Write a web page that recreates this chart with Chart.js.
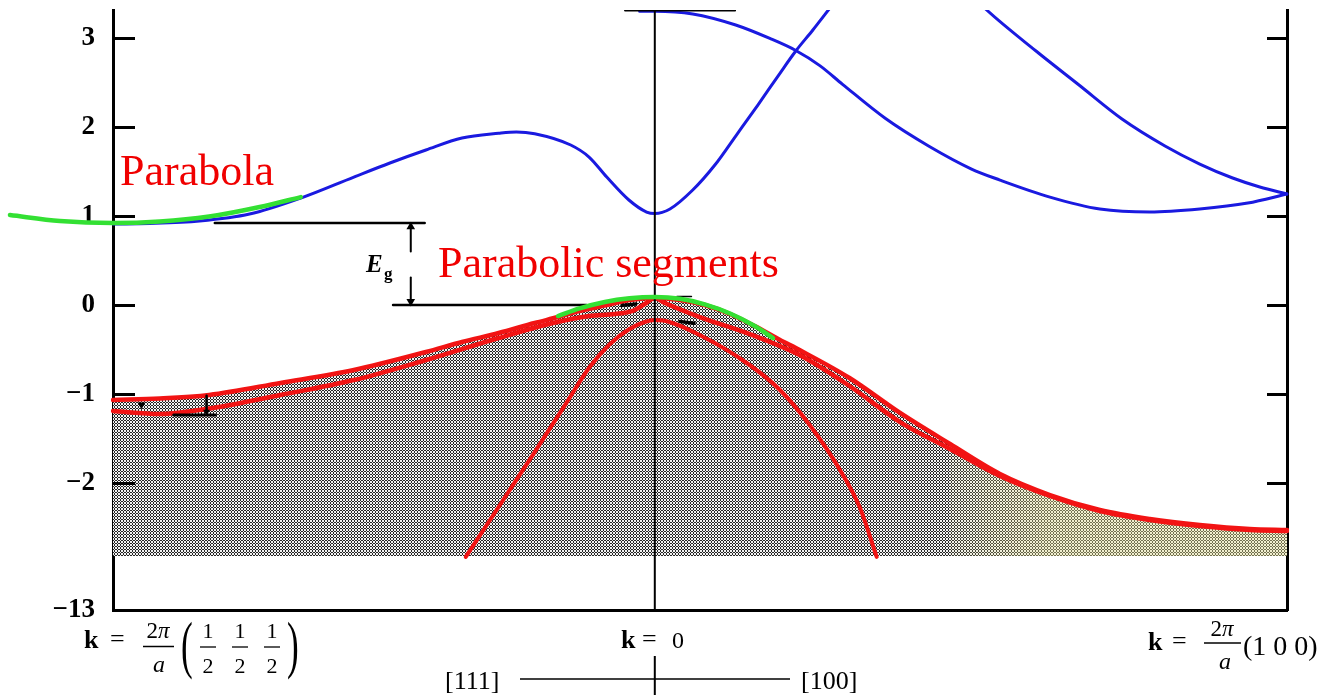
<!DOCTYPE html>
<html><head><meta charset="utf-8">
<script src="https://cdn.jsdelivr.net/npm/chart.js@4.4.1/dist/chart.umd.min.js"></script>
<style>html,body{margin:0;padding:0;background:#fff;}#wrap{position:relative;width:1324px;height:695px;}</style>
</head><body><div id="wrap"><canvas id="c"></canvas></div>
<script>
// ---- axis ranges / ticks (k in units of 2π/a, E in eV; the bottom is a broken axis at -13 eV) ----
const xMin = -0.857, xMax = 1.0;
const yMin = -3.427, yMax = 3.315;
const yTickValues = [3, 2, 1, 0, -1, -2, -3.427];
const yTickLabels = ['3', '2', '1', '0', '\u22121', '\u22122', '\u221213'];
const shadeBottom = -2.82;

// ---- conduction bands (blue) ----
const cb1X = [-0.857,-0.799,-0.720,-0.641,-0.560,-0.476,-0.419,-0.362,-0.305,-0.247,-0.219,-0.190,-0.133,-0.104,-0.076,-0.041,-0.013,0,0.024,0.060,0.095,0.128,0.163,0.196,0.223,0.250,0.277];
const cb1Y = [0.910,0.916,0.944,1.022,1.202,1.438,1.596,1.742,1.876,1.930,1.945,1.925,1.798,1.663,1.438,1.180,1.045,1.028,1.079,1.292,1.573,1.899,2.247,2.584,2.854,3.090,3.337];
const cb2X = [-0.024,0,0.060,0.128,0.182,0.223,0.261,0.297,0.365,0.433,0.501,0.546,0.625,0.704,0.783,0.862,0.938,1.0];
const cb2Y = [3.30,3.30,3.27,3.146,2.995,2.860,2.690,2.480,2.095,1.787,1.528,1.404,1.213,1.079,1.045,1.079,1.146,1.247];
const cb3X = [0.506,0.525,0.603,0.671,0.739,0.807,0.862,0.914,0.957,1.0];
const cb3Y = [3.45,3.315,2.854,2.472,2.090,1.787,1.584,1.427,1.326,1.247];

// ---- valence bands (red) ----
const hhX = [-0.857,-0.783,-0.705,-0.592,-0.476,-0.362,-0.305,-0.247,-0.190,-0.153,-0.119,-0.076,-0.040,0,0.040,0.079,0.119,0.158,0.198,0.229,0.308,0.388,0.467,0.546,0.625,0.704,0.783,0.862,0.941,1.0];
const hhY = [-1.067,-1.051,-1.011,-0.876,-0.730,-0.528,-0.416,-0.315,-0.202,-0.135,-0.067,0.0,0.056,0.079,0.056,0.0,-0.101,-0.236,-0.393,-0.506,-0.820,-1.213,-1.562,-1.899,-2.135,-2.303,-2.404,-2.472,-2.517,-2.528];
const lhX = [-0.857,-0.783,-0.699,-0.592,-0.476,-0.362,-0.247,-0.161,-0.104,-0.063,-0.035,-0.016,0,0.016,0.071,0.150,0.229,0.308,0.388,0.467,0.546,0.625,0.704,0.783,0.862,0.941,1.0];
const lhY = [-1.191,-1.225,-1.157,-1.011,-0.843,-0.618,-0.371,-0.202,-0.124,-0.101,-0.067,0.011,0.079,0.022,-0.135,-0.326,-0.562,-0.910,-1.315,-1.618,-1.921,-2.146,-2.315,-2.416,-2.483,-2.528,-2.539];
const soX = [-0.299,-0.245,-0.190,-0.142,-0.103,-0.071,-0.040,-0.016,0,0.013,0.071,0.150,0.198,0.245,0.293,0.324,0.351];
const soY = [-2.831,-2.247,-1.652,-1.124,-0.697,-0.438,-0.270,-0.191,-0.169,-0.174,-0.337,-0.674,-0.955,-1.348,-1.854,-2.270,-2.831];

// ---- parabolic fits (green) ----
const parLX = [-1.020,-0.941,-0.857,-0.783,-0.705,-0.625,-0.560];
const parLY = [1.011,0.944,0.921,0.938,0.994,1.101,1.213];
const parGX = [-0.153,-0.119,-0.079,-0.040,0,0.040,0.079,0.119,0.158,0.187];
const parGY = [-0.124,-0.038,0.034,0.075,0.090,0.070,0.007,-0.096,-0.236,-0.371];

// ---- annotation marks (black) ----
const gammaX = [0, 0], gammaY = [yMax, yMin];
const topMarkX = [-0.047, 0.127], topMarkY = [3.31, 3.31];
const egTopX = [-0.696, -0.364], egTopY = [0.921, 0.921];
const egBotX = [-0.414, -0.108], egBotY = [0, 0];
const egUpX = [-0.386, -0.386], egUpY = [0.60, 0.88];
const egDownX = [-0.386, -0.386], egDownY = [0.31, 0.04];
const soMarkX = [-0.761, -0.695], soMarkY = [-1.236, -1.236];
const soArrowX = [-0.709, -0.709], soArrowY = [-1.02, -1.20];
const lMarkX = [-0.812], lMarkY = [-1.12];
const blobLX = [-0.052, -0.030], blobLY = [-0.005, 0.012];
const blobRX = [0.040, 0.062], blobRY = [-0.185, -0.205];
const topRX = [0.035, 0.058], topRY = [0.095, 0.095];

const pts = (xs, ys) => xs.map((x, i) => ({x: x, y: ys[i]}));

// halftone net texture for the occupied region
const pc = document.createElement('canvas'); pc.width = 6; pc.height = 6;
const pcx = pc.getContext('2d');
pcx.fillStyle = '#f2f2f2'; pcx.fillRect(0, 0, 6, 6);
pcx.fillStyle = '#262626';
for (let i = 0; i < 6; i++) for (let j = 0; j < 6; j++) {
  if ((i % 3 === 0) !== (j % 3 === 0)) pcx.fillRect(i, j, 1, 1);
}
const shadePattern = pcx.createPattern(pc, 'repeat');

const BLUE = '#1a1ae0', RED = '#f21414', GREEN = '#33e033', BLACK = '#000';
const line = (data, color, width, extra) => Object.assign({
  data: data, borderColor: color, borderWidth: width, pointRadius: 0, fill: false,
  cubicInterpolationMode: 'monotone', borderCapStyle: 'round', borderJoinStyle: 'round'
}, extra || {});

const datasets = [
  line(pts(parLX, parLY), GREEN, 4.5, {clip: false}),
  line(pts(parGX, parGY), GREEN, 4.5),
  line(pts(topMarkX, topMarkY), BLACK, 2),
  line(pts(egTopX, egTopY), BLACK, 2.5),
  line(pts(egBotX, egBotY), BLACK, 2.5),
  line(pts(egUpX, egUpY), BLACK, 2, {pointRadius: [0, 5], pointStyle: 'triangle', pointRotation: 0, pointBackgroundColor: BLACK, pointBorderWidth: 0}),
  line(pts(egDownX, egDownY), BLACK, 2, {pointRadius: [0, 5], pointStyle: 'triangle', pointRotation: 180, pointBackgroundColor: BLACK, pointBorderWidth: 0}),
  line(pts(soMarkX, soMarkY), BLACK, 3),
  line(pts(soArrowX, soArrowY), BLACK, 2.5, {pointRadius: [0, 4], pointStyle: 'triangle', pointRotation: 180, pointBackgroundColor: BLACK, pointBorderWidth: 0}),
  line(pts(lMarkX, lMarkY), BLACK, 0, {pointRadius: 4.5, pointStyle: 'triangle', pointRotation: 180, pointBackgroundColor: BLACK, pointBorderWidth: 0}),
  line(pts(blobLX, blobLY), BLACK, 3.5),
  line(pts(blobRX, blobRY), BLACK, 3.5),
  line(pts(topRX, topRY), BLACK, 1.5),
  line(pts(gammaX, gammaY), BLACK, 2),
  line(pts(soX, soY), RED, 4),
  line(pts(lhX, lhY), RED, 4.5),
  line(pts(hhX, hhY), RED, 4.5),
  line(pts(cb1X, cb1Y), BLUE, 3),
  line(pts(cb2X, cb2Y), BLUE, 3),
  line(pts(cb3X, cb3Y), BLUE, 3),
  line(pts(hhX, hhY).filter(p => p.x >= 0.40), 'rgba(0,0,0,0)', 0, {
    fill: {value: shadeBottom},
    backgroundColor: function (c) {
      const ch = c.chart; if (!ch.chartArea) return 'rgba(0,0,0,0)';
      const xs = ch.scales.x;
      const g = ch.ctx.createLinearGradient(xs.getPixelForValue(0.42), 0, xs.getPixelForValue(0.62), 0);
      g.addColorStop(0, 'rgba(240,235,150,0)'); g.addColorStop(1, 'rgba(240,235,150,0.38)');
      return g;
    }
  }),
  line(pts(hhX, hhY), 'rgba(0,0,0,0)', 0, {fill: {value: shadeBottom}, backgroundColor: shadePattern})
];

const serif = "'Liberation Serif','Times New Roman',serif";
function T(ctx, s, x, y, font, align) { ctx.font = font; ctx.textAlign = align || 'left'; ctx.fillText(s, x, y); }
function twoPi(ctx, cx, base) {
  ctx.font = '23px ' + serif; const w2 = ctx.measureText('2').width;
  ctx.font = 'italic 23px ' + serif; const wp = ctx.measureText('\u03c0').width;
  const x0 = cx - (w2 + wp) / 2;
  T(ctx, '2', x0, base, '23px ' + serif); T(ctx, '\u03c0', x0 + w2, base, 'italic 23px ' + serif);
}
function hbar(ctx, x1, x2, y, w) { ctx.lineWidth = w || 1.5; ctx.beginPath(); ctx.moveTo(x1, y); ctx.lineTo(x2, y); ctx.stroke(); }
function paren(ctx, s, x, base) { ctx.save(); ctx.translate(x, base); ctx.scale(0.55, 1); T(ctx, s, 0, 0, '64px ' + serif); ctx.restore(); }

const decor = {
  id: 'decor',
  afterDraw(chart) {
    const ctx = chart.ctx, a = chart.chartArea, ys = chart.scales.y, xs = chart.scales.x;
    ctx.save();
    ctx.strokeStyle = BLACK; ctx.fillStyle = BLACK; ctx.lineWidth = 3;
    yTickValues.forEach(v => {
      if (v < -3) return;
      const py = Math.round(ys.getPixelForValue(v)) + 0.5;
      ctx.beginPath(); ctx.moveTo(a.left, py); ctx.lineTo(a.left + 22, py);
      ctx.moveTo(a.right - 20, py); ctx.lineTo(a.right, py); ctx.stroke();
    });
    ctx.textBaseline = 'alphabetic';
    ctx.fillStyle = '#f00000';
    T(ctx, 'Parabola', 120, 185, '44px ' + serif);
    T(ctx, 'Parabolic segments', 438, 277, '44px ' + serif);
    ctx.fillStyle = BLACK;
    T(ctx, 'E', 366, 272, 'bold italic 25px ' + serif);
    T(ctx, 'g', 384, 279, 'bold 17px ' + serif);
    const gx = xs.getPixelForValue(0);
    // left k label
    T(ctx, 'k', 84, 648, 'bold 26px ' + serif);
    T(ctx, '=', 110, 647, '26px ' + serif);
    twoPi(ctx, 158, 638); hbar(ctx, 143, 174, 646.5); T(ctx, 'a', 159, 672, 'italic 24px ' + serif, 'center');
    paren(ctx, '(', 181, 666);
    [208, 240, 272].forEach(cx => {
      T(ctx, '1', cx, 638, '22px ' + serif, 'center'); hbar(ctx, cx - 8, cx + 8, 647, 1.3);
      T(ctx, '2', cx, 673, '22px ' + serif, 'center');
    });
    paren(ctx, ')', 287, 666);
    // center label
    T(ctx, 'k', 621, 648, 'bold 26px ' + serif);
    T(ctx, '=', 642, 647, '26px ' + serif);
    T(ctx, '0', 672, 648, '24px ' + serif);
    T(ctx, '[111]', 445, 689, '26px ' + serif);
    T(ctx, '[100]', 801, 689, '26px ' + serif);
    hbar(ctx, 520, 790, 679, 1.5);
    ctx.lineWidth = 2; ctx.beginPath(); ctx.moveTo(gx, 656); ctx.lineTo(gx, 695); ctx.stroke();
    // right label
    T(ctx, 'k', 1148, 650, 'bold 26px ' + serif);
    T(ctx, '=', 1172, 649, '26px ' + serif);
    twoPi(ctx, 1222, 636); hbar(ctx, 1204, 1241, 643); T(ctx, 'a', 1225, 669, 'italic 24px ' + serif, 'center');
    T(ctx, '(1 0 0)', 1243, 655, '28px ' + serif);
    ctx.restore();
  }
};

new Chart(document.getElementById('c'), {
  type: 'line',
  data: {datasets: datasets},
  options: {
    responsive: true, maintainAspectRatio: false, animation: false, events: [],
    layout: {padding: {top: 10, left: 0, right: 0, bottom: 0}},
    plugins: {legend: {display: false}, tooltip: {enabled: false}},
    scales: {
      x: {type: 'linear', z: 1, bounds: 'data',
          afterDataLimits: s => { s.min = xMin; s.max = xMax; },
          afterBuildTicks: s => { s.min = xMin; s.max = xMax; },
          grid: {display: false}, ticks: {display: false},
          border: {display: true, color: BLACK, width: 3},
          afterFit: s => { s.height = 85; s.paddingLeft = 0; s.paddingRight = 0; }},
      y: {type: 'linear', position: 'left', min: yMin, max: yMax, z: 1,
          grid: {display: false},
          border: {display: true, color: BLACK, width: 3},
          afterBuildTicks: s => { s.ticks = yTickValues.map(v => ({value: v})); },
          ticks: {autoSkip: false, padding: 10, color: BLACK,
                  font: {family: serif, size: 27, weight: 'bold'},
                  callback: (v) => { const i = yTickValues.indexOf(v); return i >= 0 ? yTickLabels[i] : ''; }},
          afterFit: s => { s.width = 113; s.paddingTop = 0; s.paddingBottom = 0; }},
      yR: {type: 'linear', position: 'right', min: yMin, max: yMax, z: 1,
           grid: {display: false}, ticks: {display: false},
           border: {display: true, color: BLACK, width: 3},
           afterFit: s => { s.width = 37; s.paddingTop = 0; s.paddingBottom = 0; }}
    }
  },
  plugins: [decor]
});
</script></body></html>
